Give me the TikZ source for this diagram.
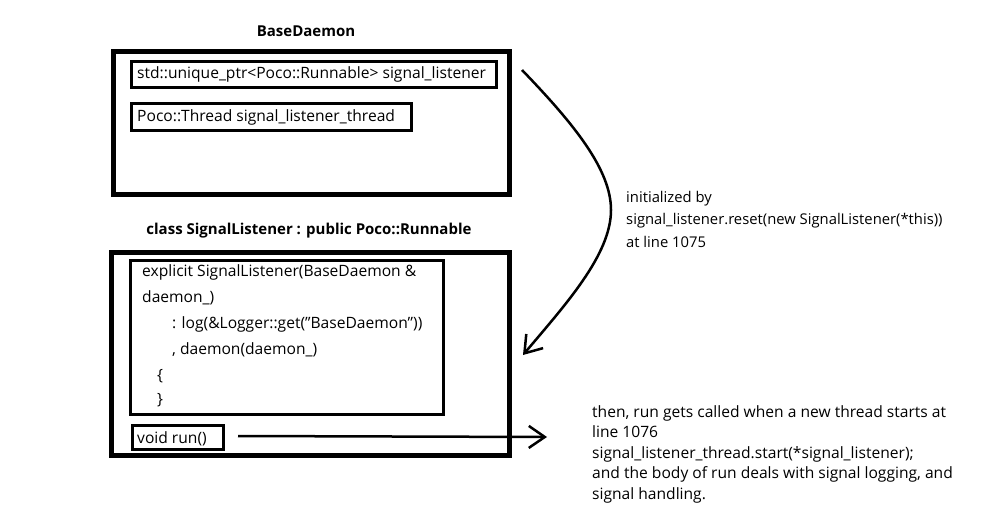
\documentclass[tikz,border=0pt]{standalone}
\usepackage{fontspec}
\setmainfont{Open Sans}[Ligatures=ResetAll]
\usetikzlibrary{arrows.meta}
\begin{document}
\begin{tikzpicture}[x=1pt,y=-1pt,
  txt/.style={font=\fontsize{15.6}{18}\selectfont, inner sep=0pt, anchor=west},
  ttl/.style={font=\fontsize{15}{18}\selectfont\bfseries, inner sep=0pt},
  outerbox/.style={draw, line width=5pt, anchor=north west, inner sep=0pt},
  innerbox/.style={draw, line width=3pt, anchor=north west, inner sep=0pt},
  conn/.style={line width=2.5pt, -{Straight Barb[length=16pt,width=22pt,line width=2.5pt]}}]
\useasboundingbox (0,0) rectangle (985,521);
% titles
\node[ttl] (t1) at (306,31) {BaseDaemon};
\node[ttl] (t2) at (309,231) {class SignalListener : public Poco::Runnable};
% outer boxes
\node[outerbox, minimum width=396pt, minimum height=143pt] (base) at (111,49) {};
\node[outerbox, minimum width=398pt, minimum height=203pt] (sig) at (109,250) {};
% base inner boxes
\node[innerbox, minimum width=365pt, minimum height=26pt] (ptr) at (130,60) {};
\node[txt] (ptrt) at (137,74) {std::unique\_ptr<Poco::Runnable> signal\_listener};
\node[innerbox, minimum width=280pt, minimum height=27pt] (thr) at (130,102) {};
\node[txt] (thrt) at (137,117) {Poco::Thread signal\_listener\_thread};
% constructor box
\node[innerbox, minimum width=313pt, minimum height=154pt] (ctor) at (129,259) {};
\node[txt] (c1) at (142,272) {explicit SignalListener(BaseDaemon \&};
\node[txt] (c2) at (142,298) {daemon\_)};
\node[txt] (c3) at (172,324) {: log(\&Logger::get("BaseDaemon"))};
\node[txt] (c4) at (172,350) {, daemon(daemon\_)};
\node[txt] (c5) at (157,376) {\{};
\node[txt] (c6) at (157,400) {\}};
% run box
\node[innerbox, minimum width=91pt, minimum height=24pt] (run) at (131,424) {};
\node[txt] (runt) at (137,439) {void run()};
% notes
\node[txt, anchor=north west, align=left, font=\fontsize{14.8}{22.5}\selectfont] (n1) at (626,191)
  {initialized by\\signal\_listener.reset(new SignalListener(*this))\\at line 1075};
\node[txt, anchor=north west, align=left, font=\fontsize{15.6}{20.5}\selectfont] (n2) at (592,405)
  {then, run gets called when a new thread starts at\\line 1076\\signal\_listener\_thread.start(*signal\_listener);\\and the body of run deals with signal logging, and\\signal handling.};
% connectors
\coordinate (cs) at (522,70);
\coordinate (ce) at (523,355);
\coordinate (rs) at (238,436);
\coordinate (re) at (547,437);
\draw[conn] (cs) .. controls (575,125) and (611,170) .. (611,210)
  .. controls (611,255) and (565,305) .. (ce);
\draw[conn] (rs) -- (re);
\end{tikzpicture}
\end{document}
